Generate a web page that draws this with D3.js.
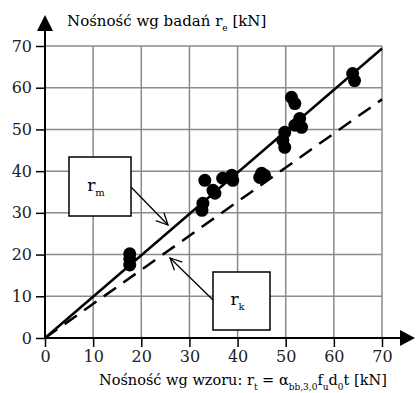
<!DOCTYPE html>
<html>
<head>
<meta charset="utf-8">
<script src="https://cdn.jsdelivr.net/npm/d3@7"></script>
<style>
  body { margin: 0; background: #fff; }
</style>
</head>
<body>
<div id="chart"></div>
<script>
// measured capacity vs. calculated capacity [kN]
const rT = [17.6, 17.6, 17.6, 32.6, 32.8, 33.2, 34.9, 35.3, 36.9, 38.8, 39.0,
            44.6, 45.0, 45.6, 49.4, 49.8, 49.8, 51.2, 51.9, 51.9, 52.9, 53.3, 63.9, 64.3];
const rE = [17.5, 19.0, 20.2, 30.6, 32.3, 37.8, 35.4, 34.7, 38.3, 39.0, 37.8,
            38.5, 39.5, 39.0, 47.4, 45.7, 49.3, 57.7, 56.2, 51.0, 52.6, 50.5, 63.4, 61.7];
// fitted lines: r_m (mean, solid) and r_k (characteristic, dashed)
const lineM = [[0, 0], [70, 69.4]];
const lineK = [[0, 0], [70, 57.2]];
const ticks = [0, 10, 20, 30, 40, 50, 60, 70];

const width = 416, height = 393;
const x0 = 45, x1 = 382, y0 = 338, y1 = 46;
const serif = 'DejaVu Serif';

const svg = d3.select('#chart').append('svg')
    .attr('width', width)
    .attr('height', height)
    .attr('font-family', serif);

const x = d3.scaleLinear().domain([0, 70]).range([x0, x1]);
const y = d3.scaleLinear().domain([0, 70]).range([y0, y1]);

// grid
svg.append('g').selectAll('line.v')
    .data(ticks.slice(1)).enter()
    .append('line')
    .attr('x1', d => x(d)).attr('x2', d => x(d))
    .attr('y1', y(0)).attr('y2', y(70))
    .attr('stroke', '#8a8a8a').attr('stroke-width', 1.5);
svg.append('g').selectAll('line.h')
    .data(ticks.slice(1)).enter()
    .append('line')
    .attr('x1', x(0)).attr('x2', x(70))
    .attr('y1', d => y(d)).attr('y2', d => y(d))
    .attr('stroke', '#8a8a8a').attr('stroke-width', 1.5);

// axes
const yAxis = d3.axisLeft(y).tickValues(ticks).tickSize(9).tickPadding(4);
const xAxis = d3.axisBottom(x).tickValues(ticks).tickSize(9).tickPadding(4);

const gy = svg.append('g').attr('transform', `translate(${x0},0)`).call(yAxis);
const gx = svg.append('g').attr('transform', `translate(0,${y0})`).call(xAxis);
[gx, gy].forEach(g => {
    g.attr('font-family', serif).attr('font-size', 16);
    g.select('.domain').remove();
    g.selectAll('line').attr('stroke', '#000').attr('stroke-width', 1.5);
    g.selectAll('text').attr('fill', '#222');
});

// axis lines with arrow heads
svg.append('line')
    .attr('x1', x0).attr('x2', x0).attr('y1', y0 + 1).attr('y2', 28)
    .attr('stroke', '#000').attr('stroke-width', 2);
svg.append('path')
    .attr('d', `M${x0},15 L${x0 - 8},31 L${x0 + 8},31 Z`)
    .attr('fill', '#000');
svg.append('line')
    .attr('x1', x0 - 1).attr('x2', 402).attr('y1', y0).attr('y2', y0)
    .attr('stroke', '#000').attr('stroke-width', 2);
svg.append('path')
    .attr('d', `M415,${y0} L400,${y0 - 8} L400,${y0 + 8} Z`)
    .attr('fill', '#000');

// regression lines
const lineFunc = d3.line()
    .x(d => x(d[0]))
    .y(d => y(d[1]));

svg.append('path')
    .attr('d', lineFunc(lineK))
    .attr('stroke', '#000').attr('stroke-width', 2.5)
    .attr('stroke-dasharray', '15,9')
    .attr('fill', 'none');
svg.append('path')
    .attr('d', lineFunc(lineM))
    .attr('stroke', '#000').attr('stroke-width', 2.5)
    .attr('fill', 'none');

// data points
svg.append('g').selectAll('circle')
    .data(rT.map((d, i) => [d, rE[i]])).enter()
    .append('circle')
    .attr('cx', d => x(d[0]))
    .attr('cy', d => y(d[1]))
    .attr('r', 6.5)
    .attr('fill', '#000');

// labels with arrows
function callout(bx, by, bw, bh, sub, from, to) {
    svg.append('rect')
        .attr('x', bx).attr('y', by).attr('width', bw).attr('height', bh)
        .attr('fill', '#fff').attr('stroke', '#000').attr('stroke-width', 1.5);
    const t = svg.append('text')
        .attr('x', bx + bw / 2 - 4).attr('y', by + bh / 2 + 4)
        .attr('text-anchor', 'middle')
        .attr('font-size', 17)
        .text('r');
    t.append('tspan').attr('dy', 5).attr('font-size', 10).text(sub);

    svg.append('line')
        .attr('x1', from[0]).attr('y1', from[1])
        .attr('x2', to[0]).attr('y2', to[1])
        .attr('stroke', '#000').attr('stroke-width', 1.3);
    const ang = Math.atan2(to[1] - from[1], to[0] - from[0]);
    const L = 13, s = 0.45;
    const p1 = [to[0] - L * Math.cos(ang - s), to[1] - L * Math.sin(ang - s)];
    const p2 = [to[0] - L * Math.cos(ang + s), to[1] - L * Math.sin(ang + s)];
    svg.append('path')
        .attr('d', `M${p1[0]},${p1[1]} L${to[0]},${to[1]} L${p2[0]},${p2[1]}`)
        .attr('stroke', '#000').attr('stroke-width', 1.3).attr('fill', 'none');
}

callout(69, 157, 62, 59, 'm', [131, 187], [168, 225]);
callout(213, 272, 57, 58, 'k', [213, 300], [170, 258]);

// axis titles
const ty = svg.append('text')
    .attr('x', 67).attr('y', 26)
    .attr('font-size', 15)
    .text('Nośność wg badań r');
ty.append('tspan').attr('dy', 5).attr('font-size', 9).text('e');
ty.append('tspan').attr('dy', -5).text(' [kN]');

const tx = svg.append('text')
    .attr('x', 99).attr('y', 385)
    .attr('font-size', 14.5)
    .text('Nośność wg wzoru: r');
tx.append('tspan').attr('dy', 5).attr('font-size', 9).text('t');
tx.append('tspan').attr('dy', -5).text(' = α');
tx.append('tspan').attr('dy', 5).attr('font-size', 9).text('bb,3,0');
tx.append('tspan').attr('dy', -5).text('f');
tx.append('tspan').attr('dy', 5).attr('font-size', 9).text('u');
tx.append('tspan').attr('dy', -5).text('d');
tx.append('tspan').attr('dy', 5).attr('font-size', 9).text('0');
tx.append('tspan').attr('dy', -5).text('t [kN]');
</script>
</body>
</html>
